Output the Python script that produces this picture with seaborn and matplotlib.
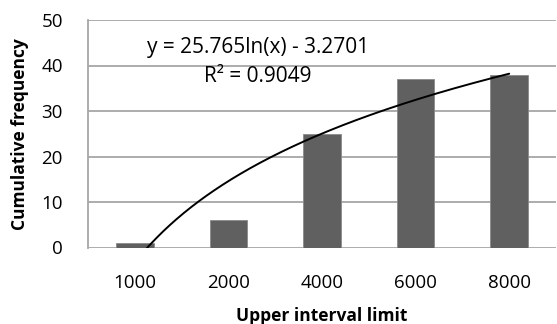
import numpy as np
import pandas as pd
import matplotlib
matplotlib.use("Agg")
import matplotlib.pyplot as plt
import seaborn as sns

categories = ["1000", "2000", "4000", "6000", "8000"]
values = [1, 6, 25, 37, 38]
trend_a = 25.765
trend_b = -3.2701
r_squared = 0.9049
y_ticks = [0, 10, 20, 30, 40, 50]

sns.set_theme(style="white")
plt.rcParams["font.family"] = ["Open Sans", "DejaVu Sans"]
plt.rcParams["text.color"] = "black"
plt.rcParams["axes.labelcolor"] = "black"
plt.rcParams["xtick.labelcolor"] = "black"
plt.rcParams["ytick.labelcolor"] = "black"

fig = plt.figure(figsize=(5.57, 3.24), dpi=100)
ax = fig.add_axes([88/557, 76.5/324, 468/557, 227.5/324])

df = pd.DataFrame({"limit": categories, "freq": values})
sns.barplot(data=df, x="limit", y="freq", order=categories, color="#606060",
            saturation=1, width=0.4, edgecolor="#8a8a8a", linewidth=0.6, ax=ax, zorder=3)

xs = np.linspace(1, len(categories), 300)
ys = trend_a * np.log(xs) + trend_b
ax.plot(xs - 1, ys, color="black", lw=1.4, zorder=4)

ax.set_xlim(-0.5, len(categories) - 0.5)
ax.set_ylim(0, 50)
ax.set_yticks(y_ticks)
ax.yaxis.grid(True, color="#a6a6a6", lw=1.3, zorder=0)
ax.set_axisbelow(True)
for s in ["top", "right", "bottom"]:
    ax.spines[s].set_visible(False)
ax.spines["left"].set_color("#a6a6a6")
ax.spines["left"].set_linewidth(1.3)
ax.tick_params(axis="y", length=6, width=1.3, color="#a6a6a6", labelcolor="black",
               labelsize=13.5, pad=12)
ax.tick_params(axis="x", length=0, labelcolor="black", labelsize=13.5, pad=19)
ax.set_xlabel("Upper interval limit", fontsize=12.5, fontweight="bold", labelpad=11,
              color="black")
ax.set_ylabel("Cumulative frequency", fontsize=12.5, fontweight="bold", labelpad=9,
              color="black")

fig.text(258/557, 1 - 48/324, f"y = {trend_a}ln(x) - {-trend_b}",
         ha="center", va="center", fontsize=15, color="black")
fig.text(258/557, 1 - 77/324, f"R² = {r_squared}",
         ha="center", va="center", fontsize=15, color="black")

fig.savefig("out.png", dpi=100)
